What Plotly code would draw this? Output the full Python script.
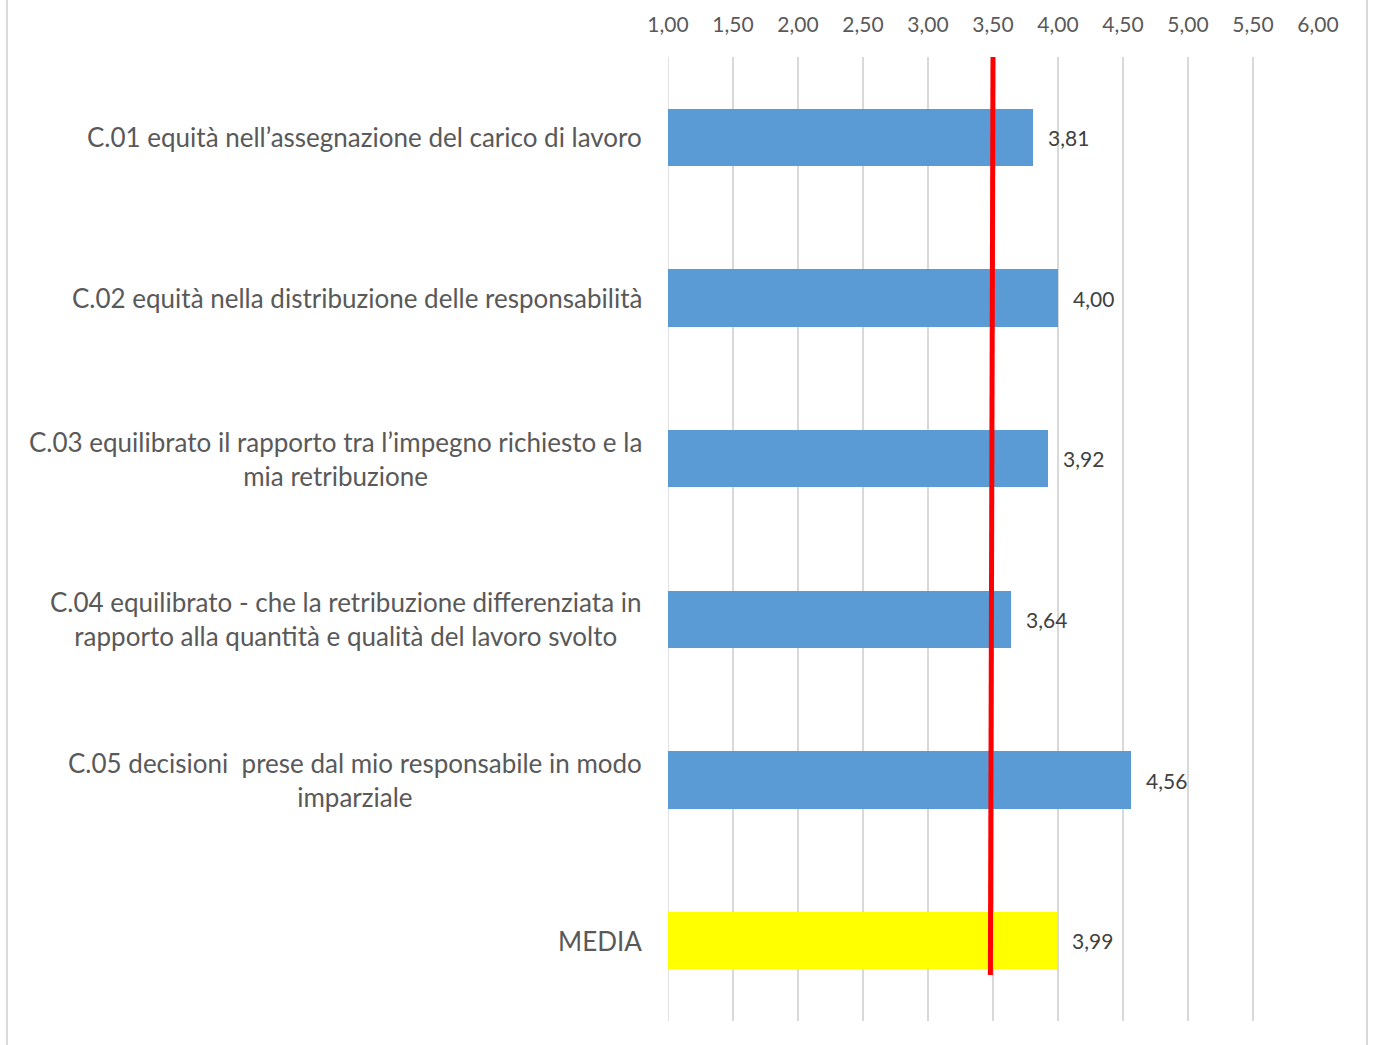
import plotly.graph_objects as go

categories = [
    "C.01 equità nell’assegnazione del carico di lavoro",
    "C.02 equità nella distribuzione delle responsabilità",
    "C.03 equilibrato il rapporto tra l’impegno richiesto e la<br>mia retribuzione",
    "C.04 equilibrato - che la retribuzione differenziata in<br>rapporto alla quantità e qualità del lavoro svolto",
    "C.05 decisioni  prese dal mio responsabile in modo<br>imparziale",
    "MEDIA",
]
values = [3.81, 4.00, 3.92, 3.64, 4.56, 3.99]
value_labels = ["3,81", "4,00", "3,92", "3,64", "4,56", "3,99"]
bar_colors = ["#5B9BD5", "#5B9BD5", "#5B9BD5", "#5B9BD5", "#5B9BD5", "#FFFF00"]
tick_values = [1.0, 1.5, 2.0, 2.5, 3.0, 3.5, 4.0, 4.5, 5.0, 5.5, 6.0]
tick_labels = ["1,00", "1,50", "2,00", "2,50", "3,00", "3,50", "4,00", "4,50", "5,00", "5,50", "6,00"]
threshold = 3.5

FONT = "Lato, Open Sans, sans-serif"
ypos = list(range(len(categories)))

fig = go.Figure()
fig.add_trace(go.Bar(
    x=[v - 1.0 for v in values],
    base=1.0,
    y=ypos,
    orientation="h",
    width=0.355,
    marker=dict(color=bar_colors, line=dict(width=0)),
    hoverinfo="skip",
))

annotations = []
for i, (c, lab, v) in enumerate(zip(categories, value_labels, values)):
    annotations.append(dict(
        x=-0.037, xref="paper", y=i, yref="y",
        text=c, showarrow=False, xanchor="right", yanchor="middle",
        align="center",
        font=dict(family=FONT, size=26, color="#595959"),
    ))
    annotations.append(dict(
        x=v, xref="x", y=i, yref="y",
        text=lab, showarrow=False, xanchor="left", yanchor="middle",
        xshift=13,
        font=dict(family=FONT, size=21, color="#404040"),
    ))

shapes = [
    dict(type="line", xref="x", yref="paper", x0=1.0, x1=1.0, y0=0, y1=1,
         line=dict(color="#D9D9D9", width=1.5), layer="below"),
    dict(type="line", xref="x", yref="y", x0=threshold, x1=threshold - 0.02,
         y0=-0.5, y1=5.214, line=dict(color="#FF0000", width=5), layer="above"),
    dict(type="line", xref="paper", yref="paper", x0=-1.017, x1=-1.017,
         y0=-0.03, y1=1.07, line=dict(color="#D9D9D9", width=2)),
    dict(type="line", xref="paper", yref="paper", x0=1.0754, x1=1.0754,
         y0=-0.03, y1=1.07, line=dict(color="#D9D9D9", width=2)),
]

fig.update_layout(
    width=1373, height=1045,
    margin=dict(l=668, r=55, t=57, b=24, autoexpand=False),
    paper_bgcolor="white", plot_bgcolor="white",
    showlegend=False,
    annotations=annotations,
    shapes=shapes,
    bargap=0,
    xaxis=dict(
        range=[1.0, 6.0], side="top",
        tickvals=tick_values, ticktext=tick_labels,
        showgrid=True, gridcolor="#D9D9D9", gridwidth=1.5,
        zeroline=False, showline=False, automargin=False,
        ticks="outside", ticklen=16, tickcolor="rgba(0,0,0,0)",
        tickfont=dict(family=FONT, size=21, color="#595959"),
        fixedrange=True,
    ),
    yaxis=dict(
        range=[5.5, -0.5], showticklabels=False, showgrid=False,
        zeroline=False, showline=False, ticks="", automargin=False,
        fixedrange=True,
    ),
)

fig.write_html("out.html")
